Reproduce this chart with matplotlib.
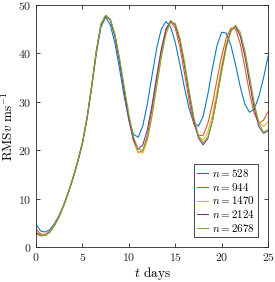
import numpy as np
import matplotlib
matplotlib.use("Agg")
import matplotlib.pyplot as plt

plt.rcParams['font.family'] = 'serif'
plt.rcParams['font.serif'] = ['cmr10', 'DejaVu Serif']
plt.rcParams['mathtext.fontset'] = 'cm'
plt.rcParams['axes.formatter.use_mathtext'] = True

# time in days, every half day
t = np.arange(0, 25.01, 0.5)

labels = ['$n = 528$', '$n = 944$', '$n = 1470$', '$n = 2124$', '$n = 2678$']
colors = ['#0072BD', '#D95319', '#EDB120', '#7E2F8E', '#77AC30']

rms_528 = [4.7, 3.3, 3.1, 3.6, 4.9, 6.6, 8.8, 11.4, 14.3, 17.6, 21.3, 26.5, 33.0, 40.0, 45.5, 47.5,
           45.9, 42.1, 36.8, 31.1, 26.2, 23.3, 22.7, 25.0, 29.7, 35.5, 41.1, 45.1, 46.6, 45.5,
           42.3, 37.7, 32.8, 28.5, 25.6, 25.0, 27.0, 31.5, 36.9, 41.7, 44.4, 44.2, 41.6, 37.6,
           33.1, 29.5, 27.85, 28.5, 31.1, 34.9, 39.5]
rms_944 = [3.7, 2.7, 2.6, 3.3, 4.7, 6.5, 8.8, 11.5, 14.5, 17.9, 21.7, 26.9, 33.5, 40.6, 46.0, 47.8,
           47.0, 43.7, 38.5, 32.4, 26.5, 21.9, 19.5, 19.9, 23.1, 28.5, 34.9, 40.9, 45.1, 46.6,
           45.2, 41.3, 35.8, 30.1, 25.4, 23.0, 23.1, 25.5, 29.6, 34.6, 39.5, 43.3, 45.3, 45.0,
           42.0, 37.1, 31.8, 27.6, 25.6, 26.2, 28.0]
rms_1470 = [3.2, 2.5, 2.5, 3.2, 4.6, 6.4, 8.7, 11.4, 14.4, 17.8, 21.6, 26.8, 33.4, 40.6, 46.1, 47.9,
            47.0, 43.7, 38.5, 32.4, 26.5, 22.2, 19.6, 19.4, 22.1, 27.2, 33.6, 39.9, 44.6, 46.7,
            45.9, 42.5, 37.3, 31.5, 26.3, 22.9, 22.05, 23.7, 27.3, 32.3, 37.6, 42.1, 45.0, 45.75,
            43.8, 39.6, 34.3, 29.2, 25.9, 24.95, 25.9]
rms_2124 = [2.9, 2.4, 2.4, 3.1, 4.5, 6.3, 8.6, 11.3, 14.3, 17.7, 21.5, 26.7, 33.3, 40.5, 46.0, 47.8,
            46.9, 43.5, 38.3, 32.2, 26.4, 22.1, 20.25, 21.1, 24.3, 29.4, 35.3, 40.8, 44.9, 46.75,
            45.9, 42.6, 37.5, 31.6, 26.2, 22.5, 21.1, 22.4, 26.0, 31.1, 36.7, 41.6, 44.8, 45.55,
            43.6, 39.4, 34.0, 28.7, 24.9, 23.5, 24.0]
rms_2678 = [2.7, 2.3, 2.4, 3.1, 4.5, 6.3, 8.6, 11.3, 14.3, 17.7, 21.5, 26.7, 33.3, 40.5, 46.0, 47.9,
            47.1, 44.0, 39.0, 33.2, 27.5, 22.8, 20.2, 19.95, 22.4, 27.2, 33.2, 39.2, 44.0, 46.5,
            46.2, 43.2, 38.2, 32.3, 26.8, 22.9, 21.5, 22.7, 26.1, 31.0, 36.3, 41.2, 44.6, 45.8,
            44.4, 40.6, 35.3, 29.8, 25.6, 23.7, 24.3]

series = [rms_528, rms_944, rms_1470, rms_2124, rms_2678]

fig = plt.figure(figsize=(2.75, 2.82), dpi=100)
ax = fig.add_axes([0.131, 0.124, 0.844, 0.858])

for y, c, lab in zip(series, colors, labels):
    ax.plot(t, y, color=c, lw=0.75, label=lab)

ax.set_xlim(0, 25)
ax.set_ylim(0, 50)
ax.set_xticks([0, 5, 10, 15, 20, 25])
ax.set_yticks([0, 10, 20, 30, 40, 50])
ax.tick_params(direction='in', top=True, right=True, labelsize=8.5,
               length=3, width=0.6, colors='#262626', pad=3)
for s in ax.spines.values():
    s.set_color('#262626')
    s.set_linewidth(0.6)

ax.set_xlabel('$t$ days', fontsize=9.5, labelpad=1)
ax.set_ylabel('RMS$v$ ms$^{-1}$', fontsize=9.5, labelpad=2)

leg = ax.legend(loc='lower right', bbox_to_anchor=(0.957, 0.041), borderaxespad=0,
                fontsize=8, handlelength=1.0, handletextpad=0.3, labelspacing=0.15,
                borderpad=0.3, fancybox=False, framealpha=1)
leg.get_frame().set_edgecolor('#262626')
leg.get_frame().set_linewidth(0.6)

fig.savefig('out.png', dpi=100)
